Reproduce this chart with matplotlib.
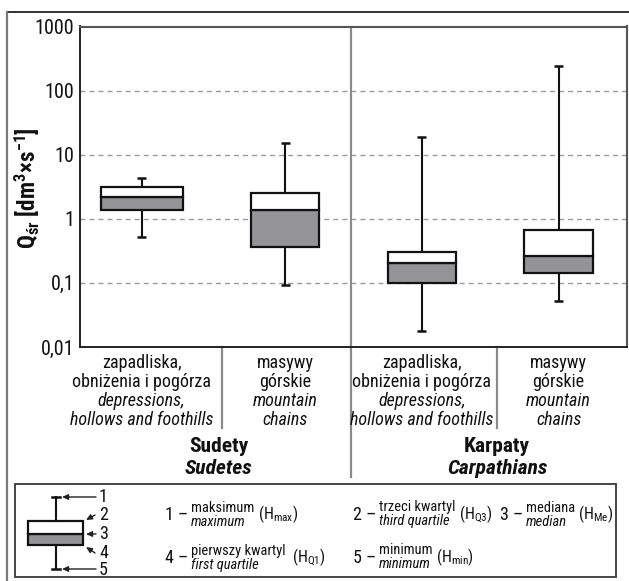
import matplotlib
matplotlib.use("Agg")
import matplotlib.pyplot as plt
from matplotlib import font_manager
from matplotlib.lines import Line2D
from matplotlib.patches import Rectangle, FancyArrowPatch
from matplotlib.transforms import blended_transform_factory

# ---- data -------------------------------------------------------------
labels_pl = ["zapadliska,\nobniżenia i pogórza", "masywy\ngórskie",
             "zapadliska,\nobniżenia i pogórza", "masywy\ngórskie"]
labels_en = ["depressions,\nhollows and foothills", "mountain\nchains",
             "depressions,\nhollows and foothills", "mountain\nchains"]
regions_pl = ["Sudety", "Karpaty"]
regions_en = ["Sudetes", "Carpathians"]

q_max = [4.3, 15.2, 19.1, 243.0]
q3 = [3.08, 2.55, 0.30, 0.666]
median = [2.15, 1.35, 0.203, 0.261]
q1 = [1.37, 0.365, 0.100, 0.142]
q_min = [0.52, 0.092, 0.0176, 0.052]

y_ticks = [0.01, 0.1, 1, 10, 100, 1000]
y_tick_labels = ["0,01", "0,1", "1", "10", "100", "1000"]

legend_items = [
    ("1 –", "maksimum", "maximum", r"(H$_{\mathrm{max}}$)"),
    ("2 –", "trzeci kwartyl", "third quartile", r"(H$_{\mathrm{Q3}}$)"),
    ("3 –", "mediana", "median", r"(H$_{\mathrm{Me}}$)"),
    ("4 –", "pierwszy kwartyl", "first quartile", r"(H$_{\mathrm{Q1}}$)"),
    ("5 –", "minimum", "minimum", r"(H$_{\mathrm{min}}$)"),
]

# ---- fonts: prefer a narrow sans ------------------------------------------
ttf = font_manager.fontManager.ttflist
names = {f.name for f in ttf}
FONT, STRETCH = None, "normal"
for cand in ["Liberation Sans Narrow", "Roboto Condensed", "Open Sans Condensed",
             "Noto Sans Condensed", "DejaVu Sans Condensed", "Arial Narrow"]:
    if cand in names:
        FONT = cand
        break
if FONT is None:
    if any(f.name == "DejaVu Sans" and str(f.stretch) == "condensed" for f in ttf):
        FONT, STRETCH = "DejaVu Sans", "condensed"
    elif "Liberation Sans" in names:
        FONT = "Liberation Sans"
    else:
        FONT = "DejaVu Sans"

plt.rcParams["font.family"] = [FONT, "DejaVu Sans"]
plt.rcParams["font.stretch"] = STRETCH
plt.rcParams["mathtext.fontset"] = "custom"
plt.rcParams["mathtext.rm"] = f"{FONT}:stretch={STRETCH}"
plt.rcParams["mathtext.it"] = f"{FONT}:style=italic:stretch={STRETCH}"
plt.rcParams["mathtext.bf"] = f"{FONT}:weight=bold:stretch={STRETCH}"

BOX_GRAY = "#949496"
TXT = "#111111"
INK = "#111111"
W, H = 629, 581

positions = [0.45, 1.5, 2.5, 3.5]
widths = [0.6, 0.5, 0.5, 0.5]
cap = 0.033

fig = plt.figure(figsize=(W / 100, H / 100), dpi=100)
renderer = fig.canvas.get_renderer()


def text_width(s, size, **kw):
    t = fig.text(0, 0, s, fontsize=size, **kw)
    w = t.get_window_extent(renderer=renderer).width
    t.remove()
    return w


def fit(s, target_px, max_size, **kw):
    """Font size giving a string the wanted width, capped by a height limit."""
    return min(max_size, 10 * target_px / text_width(s, 10, **kw))


def fx(px):
    return px / W


def fy(py):
    return 1 - py / H


# sizes
SZ_TICK = fit("1000", 39, 15)
SZ_CAT = fit("hollows and foothills", 144, 13, style="italic")
SZ_REG = fit("Carpathians", 100, 16, fontweight="bold", style="italic")
YLAB = r"Q$_{\mathbf{śr}}$ [dm$^{\mathbf{3}}$×s$^{\mathbf{-1}}$]"
SZ_YLAB = fit(YLAB, 123, 17, fontweight="bold")
SZ_KEY = fit("pierwszy kwartyl", 94, 12)
SZ_NUM = 13
SZ_SYM = 11.5
SZ_DIG = 13

# page overlay in pixel coordinates (frame lines)
page = fig.add_axes([0, 0, 1, 1], zorder=0)
page.set_xlim(0, W)
page.set_ylim(H, 0)
page.axis("off")
page.add_line(Line2D([7, W], [11.5, 11.5], color="#222222", lw=1.3))
page.add_line(Line2D([7, 7], [11.5, H], color="#7a7a7a", lw=1.6))

# ---- main axes ----------------------------------------------------------
ax_l, ax_r, ax_t, ax_b = 80, 627, 26.5, 347
ax = fig.add_axes([fx(ax_l), fy(ax_b), fx(ax_r - ax_l), (ax_b - ax_t) / H], zorder=2)
ax.set_yscale("log")
ax.set_ylim(0.01, 1000)
ax.set_xlim(0, 4)
ax.set_yticks(y_ticks)
ax.set_yticklabels(y_tick_labels)
ax.yaxis.set_minor_locator(matplotlib.ticker.NullLocator())
ax.set_xticks([])
ax.tick_params(axis="y", length=0, pad=4, labelsize=SZ_TICK, labelcolor=TXT)
for side in ["left", "bottom"]:
    ax.spines[side].set_color("#222222")
    ax.spines[side].set_linewidth(1.4)
for side in ["top", "right"]:
    ax.spines[side].set_color("#555555")
    ax.spines[side].set_linewidth(1.5)

for v in y_ticks[1:-1]:
    ax.axhline(v, color="#9a9a9a", lw=1.0, ls=(0, (3.6, 2.9)), zorder=1)

# boxes: lower part grey (Q1-median), upper part white (median-Q3)
lower = [m - a for m, a in zip(median, q1)]
upper = [b - m for b, m in zip(q3, median)]
ax.bar(positions, lower, bottom=q1, width=widths, color=BOX_GRAY,
       edgecolor=INK, linewidth=1.6, zorder=3)
ax.bar(positions, upper, bottom=median, width=widths, color="white",
       edgecolor=INK, linewidth=1.6, zorder=3)
ax.vlines(positions, q3, q_max, color=INK, lw=1.5, zorder=2)
ax.vlines(positions, q_min, q1, color=INK, lw=1.5, zorder=2)
ax.hlines(q_max, [p - cap for p in positions], [p + cap for p in positions],
          color=INK, lw=1.8, zorder=2)
ax.hlines(q_min, [p - cap for p in positions], [p + cap for p in positions],
          color=INK, lw=1.8, zorder=2)

# separators between regions and between categories
axh = ax_b - ax_t


def ay(py):
    return (ax_b - py) / axh


bt = blended_transform_factory(ax.transData, ax.transAxes)
ax.add_line(Line2D([1.985, 1.985], [1, ay(477)], transform=bt, color="#8a8a8a",
                   lw=1.6, clip_on=False, zorder=1))
for xs in [1.04, 3.05]:
    ax.add_line(Line2D([xs, xs], [0, ay(428)], transform=bt, color="#8a8a8a",
                       lw=1.6, clip_on=False, zorder=1))

# category labels
base_pl = [367.5, 387]
base_en = [406, 425]
for p, lp, le in zip(positions, labels_pl, labels_en):
    for line, b in zip(lp.split("\n"), base_pl):
        ax.text(p, ay(b), line, transform=bt, ha="center", va="baseline",
                fontsize=SZ_CAT, color=TXT)
    for line, b in zip(le.split("\n"), base_en):
        ax.text(p, ay(b), line, transform=bt, ha="center", va="baseline",
                fontsize=SZ_CAT, style="italic", color=TXT)

group_x = [(positions[0] + positions[1]) / 2 + 0.04, (positions[2] + positions[3]) / 2 + 0.05]
for gx, rp, re in zip(group_x, regions_pl, regions_en):
    ax.text(gx, ay(452), rp, transform=bt, ha="center", va="baseline",
            fontsize=SZ_REG, fontweight="bold", color=TXT)
    ax.text(gx, ay(474), re, transform=bt, ha="center", va="baseline",
            fontsize=SZ_REG, fontweight="bold", style="italic", color=TXT)

fig.text(fx(27), fy(188), YLAB, rotation=90, ha="center", va="center",
         fontsize=SZ_YLAB, fontweight="bold", color=TXT)

# ---- key box ------------------------------------------------------------
lg = fig.add_axes([0, 0, 1, 1], zorder=3)
lg.set_xlim(0, W)
lg.set_ylim(H, 0)
lg.axis("off")
lg.add_patch(Rectangle((15, 484), 601, 93, fill=False, edgecolor="#444444", lw=1.4))

# schematic box
cx = 56
lg.add_patch(Rectangle((28, 534), 55, 11, facecolor=BOX_GRAY, edgecolor=INK, lw=1.6))
lg.add_patch(Rectangle((28, 521), 55, 13, facecolor="white", edgecolor=INK, lw=1.6))
lg.add_line(Line2D([cx, cx], [497, 521], color=INK, lw=1.5))
lg.add_line(Line2D([cx, cx], [545, 569], color=INK, lw=1.5))
lg.add_line(Line2D([52, 60], [497, 497], color=INK, lw=1.8))
lg.add_line(Line2D([52, 60], [569, 569], color=INK, lw=1.8))

for (x0, y0), (x1, y1) in [((96, 497), (62, 497)), ((95, 515), (86, 520)),
                           ((96, 534), (86, 534)), ((95, 553), (86, 547)),
                           ((96, 569), (62, 569))]:
    lg.add_patch(FancyArrowPatch((x0, y0), (x1, y1),
                                 arrowstyle="-|>,head_length=3.5,head_width=1.6",
                                 mutation_scale=1, shrinkA=0, shrinkB=0,
                                 color="#222222", lw=1.0))
for n, yy in zip(["1", "2", "3", "4", "5"], [497, 515.5, 534, 552.5, 570]):
    lg.text(99, yy, n, ha="left", va="center", fontsize=SZ_DIG, color=TXT)

# key entries: number, Polish/English term, symbol
col_x = [165, 353, 500, 165, 353]
row = [0, 0, 0, 1, 1]
par_x = [256, 452, 563, 292, 415]
for i, (num, pl, en, sym) in enumerate(legend_items):
    x0 = col_x[i]
    dy = 43 * row[i]
    tn = lg.text(x0, 520 + dy, num, ha="left", va="baseline", fontsize=SZ_NUM, color=TXT)
    tx = x0 + tn.get_window_extent(renderer).width + 3
    t1 = lg.text(tx, 511.5 + dy, pl, ha="left", va="baseline", fontsize=SZ_KEY,
                 color=TXT)
    t2 = lg.text(tx, 525.5 + dy, en, ha="left", va="baseline", fontsize=SZ_KEY,
                 style="italic", color=TXT)
    tw = max(t1.get_window_extent(renderer).width, t2.get_window_extent(renderer).width)
    sx = max(par_x[i], tx + tw + 3)
    lg.text(sx, 519 + dy, sym, ha="left", va="baseline", fontsize=SZ_SYM, color=TXT)

fig.savefig("out.png", dpi=100)
